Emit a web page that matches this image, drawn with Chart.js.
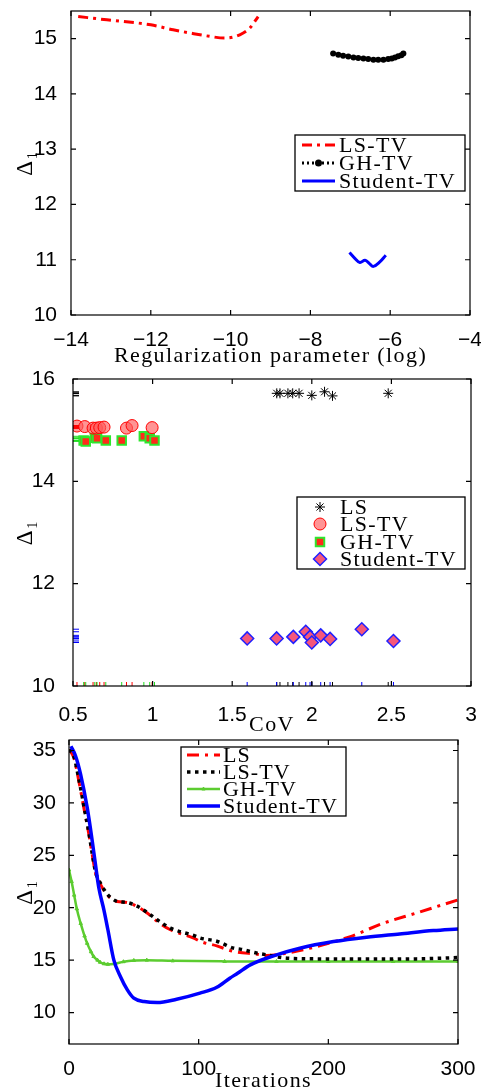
<!DOCTYPE html>
<html><head><meta charset="utf-8">
<script src="https://cdn.jsdelivr.net/npm/chart.js@4.4.1/dist/chart.umd.min.js"></script>
<style>
html,body{margin:0;padding:0;background:#fff;overflow:hidden;width:481px;height:1091px;position:relative}
canvas{position:absolute;left:0}
</style></head><body>
<canvas id="c1" width="481" height="369" style="top:0px"></canvas>
<canvas id="c2" width="481" height="370" style="top:368px"></canvas>
<canvas id="c3" width="481" height="364" style="top:730px"></canvas>
<script>
// ---------- Panel 1: Delta_1 vs regularization parameter (log) ----------
const xTicks1 = [-14, -12, -10, -8, -6, -4];
const yTicks1 = [10, 11, 12, 13, 14, 15];
const lsTvX1 = [-13.82, -13.1, -12.0, -11.44, -11.0, -10.6, -10.14, -9.77, -9.52, -9.31];
const lsTvY1 = [15.40, 15.34, 15.25, 15.16, 15.10, 15.05, 15.01, 15.07, 15.19, 15.40];
const ghTvX1 = [-7.43, -7.3, -7.18, -7.05, -6.92, -6.8, -6.67, -6.55, -6.42, -6.3, -6.17, -6.05, -5.96, -5.88, -5.80, -5.72, -5.67];
const ghTvY1 = [14.73, 14.71, 14.69, 14.675, 14.66, 14.65, 14.64, 14.63, 14.62, 14.62, 14.62, 14.63, 14.64, 14.66, 14.68, 14.70, 14.73];
const stTvX1 = [-7.02, -6.88, -6.76, -6.63, -6.52, -6.42, -6.26, -6.11];
const stTvY1 = [11.13, 11.02, 10.95, 10.99, 10.93, 10.88, 10.96, 11.08];

// ---------- Panel 2: Delta_1 vs CoV ----------
const xTicks2 = [0.5, 1, 1.5, 2, 2.5, 3];
const yTicks2 = [10, 12, 14, 16];
const lsCoV = [1.78, 1.80, 1.85, 1.88, 1.92, 2.00, 2.08, 2.13, 2.48];
const lsD = [15.72, 15.72, 15.72, 15.72, 15.72, 15.68, 15.75, 15.67, 15.72];
const lsTvCoV = [0.525, 0.574, 0.626, 0.647, 0.668, 0.695, 0.836, 0.871, 0.997];
const lsTvD = [15.08, 15.07, 15.04, 15.04, 15.05, 15.06, 15.04, 15.09, 15.05];
const ghTvCoV = [0.567, 0.58, 0.637, 0.651, 0.706, 0.806, 0.945, 0.982, 1.012];
const ghTvD = [14.80, 14.78, 14.85, 14.84, 14.80, 14.80, 14.88, 14.84, 14.80];
const stTvCoV = [1.594, 1.779, 1.884, 1.962, 1.989, 2.0, 2.056, 2.115, 2.314, 2.513];
const stTvD = [10.93, 10.93, 10.96, 11.06, 10.96, 10.85, 10.99, 10.92, 11.11, 10.88];

// ---------- Panel 3: Delta_1 vs iterations ----------
const xTicks3 = [0, 100, 200, 300];
const yTicks3 = [10, 15, 20, 25, 30, 35];
const lsIt = [0, 3.8, 7.7, 11.5, 15.4, 18, 20.5, 24.4, 29.5, 33.4, 37.2, 44.9, 52.6, 60.3, 68, 78.2, 96.2, 101.5, 114, 127, 145, 152.6, 168, 191, 217, 242, 268, 300];
const lsVal = [35.1, 34.3, 32.0, 29.5, 26.96, 25.0, 23.3, 22.2, 21.2, 20.8, 20.59, 20.5, 20.1, 19.5, 18.7, 17.9, 17.1, 16.77, 16.36, 15.82, 15.57, 15.44, 15.67, 16.3, 17.25, 18.5, 19.5, 20.75];
const lsTvIt = [0, 3.8, 7.7, 11.5, 15.4, 18, 20.5, 24.4, 29.5, 33.4, 37.2, 44.9, 52.6, 60.3, 68, 78.2, 96.2, 101.5, 114, 127, 132, 145, 152.6, 168, 191, 217, 242, 268, 290, 300];
const lsTvVal = [35.1, 34.4, 32.2, 29.7, 27.1, 25.1, 23.4, 22.3, 21.3, 20.85, 20.6, 20.5, 20.15, 19.55, 18.85, 18.05, 17.35, 17.1, 16.8, 16.14, 16.05, 15.67, 15.5, 15.19, 15.12, 15.1, 15.1, 15.12, 15.2, 15.25];
const ghTvIt = [0, 2, 4, 6, 9, 12, 14, 17, 19, 22, 24, 27, 30, 35, 42, 50, 60, 80, 120, 160, 200, 250, 300];
const ghTvVal = [23.6, 22.5, 21.2, 19.9, 18.5, 17.3, 16.6, 15.8, 15.35, 15.0, 14.8, 14.65, 14.6, 14.65, 14.85, 14.97, 15.0, 14.93, 14.88, 14.87, 14.87, 14.87, 14.87];
const stTvIt = [1.5, 5, 9, 14.1, 18, 20, 23, 26.9, 30, 34.6, 39.8, 45, 50, 58, 68, 83, 101, 114, 124, 130, 139.8, 157.7, 178, 204, 229.5, 255, 281, 300];
const stTvVal = [35.4, 34.5, 32.7, 29.5, 26.3, 24.5, 21.9, 19.8, 17.9, 15.0, 13.4, 12.16, 11.37, 11.05, 10.95, 11.27, 11.85, 12.42, 13.28, 13.75, 14.55, 15.41, 16.14, 16.77, 17.19, 17.5, 17.82, 17.98];

const SERIF = '"Liberation Serif", "Times New Roman", serif';
Chart.defaults.font.family = '"Liberation Sans", Arial, Helvetica, sans-serif';
Chart.defaults.color = '#000';

const pts = (xs, ys) => xs.map((x, i) => ({x: x, y: ys[i]}));
const fmt = v => String(v).replace('-', '\u2212');

// letter spacing for the serif axis titles (titles are drawn before datasets, tick labels after)
const spacingPlugin = {
  id: 'spacing',
  beforeDraw(chart) { chart.ctx.letterSpacing = '1.4px'; },
  beforeDatasetsDraw(chart) { chart.ctx.letterSpacing = '0px'; }
};

const framePlugin = {
  id: 'frameTicks',
  afterDraw(chart) {
    const ctx = chart.ctx, a = chart.chartArea;
    const xs = chart.scales.x, ys = chart.scales.y;
    const L = 5;
    ctx.save();
    ctx.strokeStyle = '#000';
    ctx.lineWidth = 1.2;
    ctx.beginPath();
    xs.ticks.forEach(t => {
      const p = xs.getPixelForValue(t.value);
      ctx.moveTo(p, a.bottom); ctx.lineTo(p, a.bottom - L);
      ctx.moveTo(p, a.top); ctx.lineTo(p, a.top + L);
    });
    ys.ticks.forEach(t => {
      const p = ys.getPixelForValue(t.value);
      ctx.moveTo(a.left, p); ctx.lineTo(a.left + L, p);
      ctx.moveTo(a.right, p); ctx.lineTo(a.right - L, p);
    });
    ctx.stroke();
    ctx.strokeRect(a.left, a.top, a.right - a.left, a.bottom - a.top);
    ctx.restore();
  }
};

const rugPlugin = {
  id: 'rug',
  afterDatasetsDraw(chart, args, o) {
    if (!o || !o.colors) return;
    const ctx = chart.ctx, a = chart.chartArea;
    const xs = chart.scales.x, ys = chart.scales.y;
    ctx.save();
    ctx.lineWidth = 1;
    chart.data.datasets.forEach((ds, i) => {
      ctx.strokeStyle = o.colors[i];
      ctx.beginPath();
      ds.data.forEach(pt => {
        const px = xs.getPixelForValue(pt.x), py = ys.getPixelForValue(pt.y);
        ctx.moveTo(px, a.bottom); ctx.lineTo(px, a.bottom - o.len);
        ctx.moveTo(a.left, py); ctx.lineTo(a.left + o.width, py);
      });
      ctx.stroke();
    });
    ctx.restore();
  }
};

function drawMarker(ctx, m, x, y) {
  ctx.save();
  ctx.fillStyle = m.bg; ctx.strokeStyle = m.border; ctx.lineWidth = m.bw;
  ctx.setLineDash([]);
  if (Chart.helpers && Chart.helpers.drawPoint) {
    Chart.helpers.drawPoint(ctx, {pointStyle: m.style, radius: m.radius, rotation: 0, borderWidth: m.bw}, x, y);
  } else {
    ctx.beginPath(); ctx.arc(x, y, m.radius, 0, Math.PI * 2); ctx.fill(); if (m.bw > 0) ctx.stroke();
  }
  ctx.restore();
}

const boxLegend = {
  id: 'boxLegend',
  afterDraw(chart, args, o) {
    if (!o || !o.box) return;
    const ctx = chart.ctx;
    ctx.save();
    ctx.letterSpacing = '0px';
    ctx.fillStyle = '#fff';
    ctx.fillRect(o.box[0], o.box[1], o.box[2], o.box[3]);
    ctx.strokeStyle = '#000'; ctx.lineWidth = 1.3;
    ctx.strokeRect(o.box[0], o.box[1], o.box[2], o.box[3]);
    chart.data.datasets.forEach((ds, i) => {
      const y = o.rows[i];
      if (o.mode === 'line') {
        ctx.save();
        ctx.strokeStyle = ds.borderColor; ctx.lineWidth = ds.borderWidth;
        ctx.setLineDash(ds.borderDash || []);
        ctx.beginPath(); ctx.moveTo(o.line[0], y); ctx.lineTo(o.line[1], y); ctx.stroke();
        ctx.restore();
        if (o.markers && o.markers[i]) drawMarker(ctx, o.markers[i], (o.line[0] + o.line[1]) / 2, y);
      } else {
        drawMarker(ctx, o.markers[i], o.markerX, y);
      }
      ctx.save();
      ctx.fillStyle = '#000';
      ctx.font = o.font;
      ctx.textBaseline = 'middle';
      ctx.letterSpacing = o.spacing;
      ctx.fillText(ds.label, o.textX, y + 1);
      ctx.restore();
    });
    ctx.restore();
  }
};

function axes(o) {
  return {
    x: {
      type: 'linear', min: o.xmin, max: o.xmax,
      afterBuildTicks: s => { s.ticks = o.xt.map(v => ({value: v})); },
      afterFit: s => { s.height = o.xh; s.paddingLeft = 0; s.paddingRight = 0; },
      grid: {display: false}, border: {display: false},
      ticks: {z: 1, padding: o.xpad, maxRotation: 0, autoSkip: false, color: '#000', font: {size: 21}, callback: v => fmt(v)},
      title: {display: true, text: o.xtitle, color: '#000', font: {family: SERIF, size: 22}, padding: 0}
    },
    y: {
      type: 'linear', min: o.ymin, max: o.ymax,
      afterBuildTicks: s => { s.ticks = o.yt.map(v => ({value: v})); },
      afterFit: s => { s.width = o.yw; s.paddingTop = 0; s.paddingBottom = 0; },
      grid: {display: false}, border: {display: false},
      ticks: {z: 1, padding: o.ypad, autoSkip: false, color: '#000', font: {size: 21}, callback: v => fmt(v)},
      title: {display: true, text: 'Δ₁', color: '#000', font: {family: SERIF, size: 23}, padding: {top: 12, bottom: 0}}
    }
  };
}

const common = (pad) => ({
  responsive: false, animation: false, devicePixelRatio: 1,
  layout: {padding: pad},
  events: []
});

// Panel 1
new Chart(document.getElementById('c1'), {
  type: 'scatter',
  data: {datasets: [
    {label: 'LS-TV', data: pts(lsTvX1, lsTvY1), showLine: true, borderColor: '#ff0000', borderWidth: 3, borderDash: [10, 5, 3, 5], pointRadius: 0, cubicInterpolationMode: 'monotone'},
    {label: 'GH-TV', data: pts(ghTvX1, ghTvY1), showLine: true, borderColor: '#000', borderWidth: 3, borderDash: [2, 3], pointRadius: 3, pointStyle: 'circle', pointBackgroundColor: '#000', pointBorderColor: '#000', pointBorderWidth: 0, cubicInterpolationMode: 'monotone'},
    {label: 'Student-TV', data: pts(stTvX1, stTvY1), showLine: true, borderColor: '#0000ff', borderWidth: 3, pointRadius: 0, tension: 0.4}
  ]},
  options: Object.assign(common({top: 11, right: 11, left: 0, bottom: 0}), {
    scales: axes({xmin: -14, xmax: -4, ymin: 10, ymax: 15.5, xt: xTicks1, yt: yTicks1, xh: 54, yw: 71, xpad: 5, ypad: 6, xtitle: 'Regularization parameter (log)'}),
    plugins: {
      legend: {display: false}, tooltip: {enabled: false},
      boxLegend: {box: [295, 135, 170, 56], rows: [145, 163, 181], mode: 'line', line: [302, 335], textX: 339,
        font: '22px ' + SERIF, spacing: '1.3px',
        markers: [null, {style: 'circle', radius: 3.5, bg: '#000', border: '#000', bw: 0}, null]}
    }
  }),
  plugins: [spacingPlugin, framePlugin, boxLegend]
});

// Panel 2
new Chart(document.getElementById('c2'), {
  type: 'scatter',
  data: {datasets: [
    {label: 'LS', data: pts(lsCoV, lsD), pointStyle: 'star', pointRadius: 5, borderColor: '#000', backgroundColor: '#000', pointBorderWidth: 1},
    {label: 'LS-TV', data: pts(lsTvCoV, lsTvD), pointStyle: 'circle', pointRadius: 6, borderColor: '#ff0000', backgroundColor: 'rgba(255,90,90,0.65)', pointBorderWidth: 1},
    {label: 'GH-TV', data: pts(ghTvCoV, ghTvD), pointStyle: 'rect', pointRadius: 6, borderColor: '#2ee62e', backgroundColor: '#ff2a1a', pointBorderWidth: 2},
    {label: 'Student-TV', data: pts(stTvCoV, stTvD), pointStyle: 'rectRot', pointRadius: 6.5, borderColor: '#2020ff', backgroundColor: '#f5577a', pointBorderWidth: 1.5}
  ]},
  options: Object.assign(common({top: 11, right: 10, left: 0, bottom: 0}), {
    scales: axes({xmin: 0.5, xmax: 3, ymin: 10, ymax: 16, xt: xTicks2, yt: yTicks2, xh: 52, yw: 73, xpad: 9, ypad: 10, xtitle: 'CoV'}),
    plugins: {
      legend: {display: false}, tooltip: {enabled: false},
      rug: {colors: ['#000', '#ff0000', '#22dd22', '#0000ff'], len: 4, width: 6},
      boxLegend: {box: [297, 129, 168, 72], rows: [139, 156, 174, 191], mode: 'marker', markerX: 320, textX: 340,
        font: '22px ' + SERIF, spacing: '1.3px',
        markers: [
          {style: 'star', radius: 5, bg: '#000', border: '#000', bw: 1},
          {style: 'circle', radius: 6, bg: 'rgba(255,90,90,0.65)', border: '#ff0000', bw: 1},
          {style: 'rect', radius: 6, bg: '#ff2a1a', border: '#2ee62e', bw: 2},
          {style: 'rectRot', radius: 6.5, bg: '#f5577a', border: '#2020ff', bw: 1.5}
        ]}
    }
  }),
  plugins: [spacingPlugin, rugPlugin, framePlugin, boxLegend]
});

// Panel 3
new Chart(document.getElementById('c3'), {
  type: 'scatter',
  data: {datasets: [
    {label: 'LS', order: 3, data: pts(lsIt, lsVal), showLine: true, borderColor: '#ff0000', borderWidth: 3, borderDash: [12, 6, 3, 6], pointRadius: 0, cubicInterpolationMode: 'monotone'},
    {label: 'LS-TV', order: 2, data: pts(lsTvIt, lsTvVal), showLine: true, borderColor: '#000', borderWidth: 3.5, borderDash: [3.5, 4.5], pointRadius: 0, cubicInterpolationMode: 'monotone'},
    {label: 'GH-TV', order: 4, data: pts(ghTvIt, ghTvVal), showLine: true, borderColor: '#5ccc30', borderWidth: 2.5, pointStyle: 'triangle', pointRadius: 2, pointBackgroundColor: '#5ccc30', pointBorderColor: '#5ccc30', pointBorderWidth: 1, cubicInterpolationMode: 'monotone'},
    {label: 'Student-TV', order: 1, data: pts(stTvIt, stTvVal), showLine: true, borderColor: '#0000ff', borderWidth: 3.5, pointRadius: 0, cubicInterpolationMode: 'monotone'}
  ]},
  options: Object.assign(common({top: 10, right: 23, left: 0, bottom: 0}), {
    scales: axes({xmin: 0, xmax: 300, ymin: 7, ymax: 36, xt: xTicks3, yt: yTicks3, xh: 50, yw: 69, xpad: 5, ypad: 5, xtitle: 'Iterations'}),
    plugins: {
      legend: {display: false}, tooltip: {enabled: false},
      boxLegend: {box: [181, 17, 165, 69], rows: [25, 42, 59, 76], mode: 'line', line: [187, 220], textX: 223,
        font: '22px ' + SERIF, spacing: '1.1px',
        markers: [null, null, {style: 'triangle', radius: 2, bg: '#5ccc30', border: '#5ccc30', bw: 1}, null]}
    }
  }),
  plugins: [spacingPlugin, framePlugin, boxLegend]
});
</script>
</body></html>
